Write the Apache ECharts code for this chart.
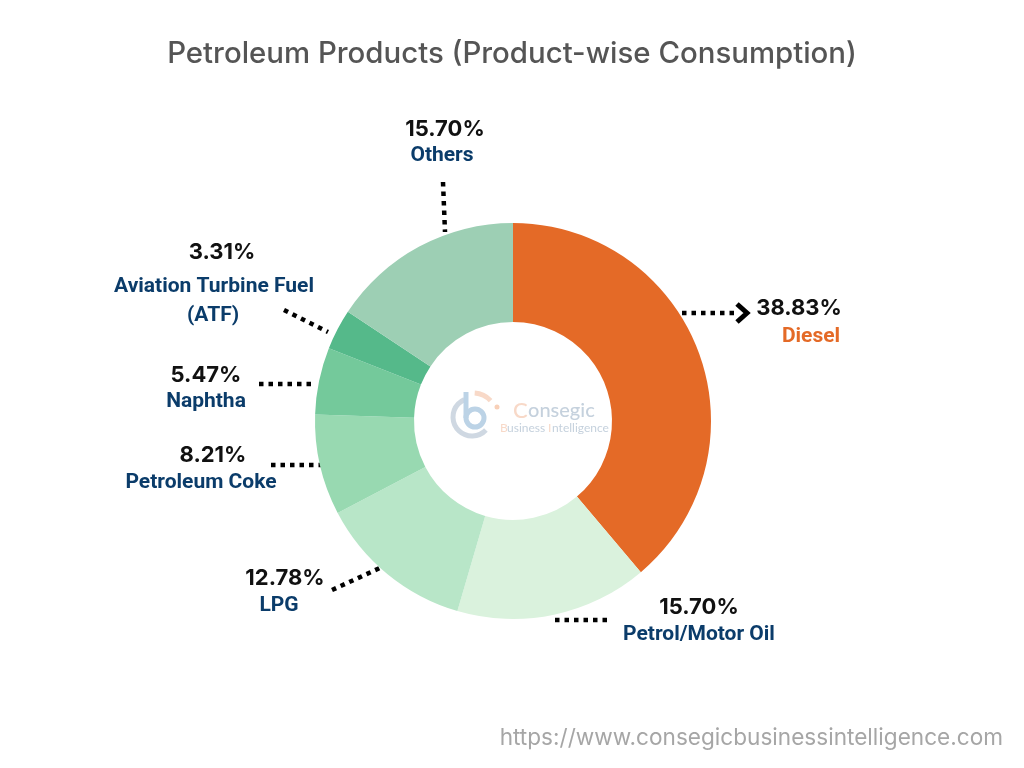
<!DOCTYPE html>
<html>
<head>
<meta charset="utf-8">
<style>html,body{margin:0;padding:0;background:#fff}#main{width:1024px;height:768px}</style>
<script src="https://cdn.jsdelivr.net/npm/echarts@6/dist/echarts.min.js"></script>
</head>
<body>
<div id="main"></div>
<script>
var categories = ['Diesel', 'Petrol/Motor Oil', 'LPG', 'Petroleum Coke', 'Naphtha', 'Aviation Turbine Fuel (ATF)', 'Others'];
var shares = [38.83, 15.70, 12.78, 8.21, 5.47, 3.31, 15.70];
var sliceColors = ['#e46a27', '#daf2dd', '#b8e6c8', '#98d9b1', '#74c99b', '#55b98a', '#9dcfb4'];

var myChart = echarts.init(document.getElementById('main'));

var valueFont = 'Inter';
var nameFont = 'Roboto';
var navy = '#0b3c6a';

// percent + name text blocks, x is the centre of the text
function pct(i) { return shares[i].toFixed(2) + '%'; }
function valueText(i, x, y) {
    return { type: 'text', x: x, y: y, style: { text: pct(i), fontFamily: valueFont, fontWeight: 700, fontSize: 22, fill: '#111', align: 'center', verticalAlign: 'middle' } };
}
function nameText(str, x, y, color) {
    return { type: 'text', x: x, y: y, style: { text: str, fontFamily: nameFont, fontWeight: 700, fontSize: 21, fill: color || navy, align: 'center', verticalAlign: 'middle' } };
}
function dots(x1, y1, x2, y2) {
    return { type: 'line', shape: { x1: x1, y1: y1, x2: x2, y2: y2 }, style: { stroke: '#000', lineWidth: 4.5, lineDash: [4.5, 5] } };
}

var notes = [
    valueText(6, 445, 129), nameText('Others', 442, 156),
    dots(443, 182, 445, 232),
    valueText(5, 222, 252), nameText('Aviation Turbine Fuel', 214, 287), nameText('(ATF)', 213, 316),
    dots(284, 310, 328, 332),
    valueText(0, 799, 308), nameText('Diesel', 811, 337, '#e46a27'),
    dots(682, 313, 734, 313),
    { type: 'polyline', shape: { points: [[737, 304], [747, 313], [737, 322]] }, style: { stroke: '#000', lineWidth: 5, fill: null } },
    valueText(4, 206, 375), nameText('Naphtha', 206, 402),
    dots(259, 384, 314, 384),
    valueText(3, 213, 455), nameText('Petroleum Coke', 201, 483),
    dots(271, 465, 325, 465),
    valueText(2, 285, 578), nameText('LPG', 279, 606),
    dots(332, 590, 382, 567),
    valueText(1, 699, 607), nameText(categories[1], 699, 635),
    dots(555, 620, 610, 620)
];

// faint logo in the hole of the donut
var logo = [
    { type: 'arc', shape: { cx: 472, cy: 417, r: 19, startAngle: 0.75, endAngle: 4.3, clockwise: true }, style: { stroke: '#cfd8e2', lineWidth: 5, fill: null } },
    { type: 'circle', shape: { cx: 475, cy: 418, r: 9 }, style: { stroke: '#bcd3e6', lineWidth: 5, fill: null } },
    { type: 'line', shape: { x1: 466, y1: 392, x2: 466, y2: 418 }, style: { stroke: '#bcd3e6', lineWidth: 5 } },
    { type: 'arc', shape: { cx: 473, cy: 417, r: 24, startAngle: -1.5, endAngle: -0.75, clockwise: true }, style: { stroke: '#f8d9c8', lineWidth: 5, fill: null } },
    { type: 'circle', shape: { cx: 497, cy: 407, r: 2.5 }, style: { fill: '#f8d0b8' } },
    { type: 'text', x: 513, y: 411, style: { text: 'C', font: '500 22px Lato', fill: '#f8d9c8', verticalAlign: 'middle' } },
    { type: 'text', x: 528, y: 411, style: { text: 'onsegic', font: '500 20px Lato', fill: '#c5d1dd', verticalAlign: 'middle' } },
    { type: 'text', x: 500, y: 428, style: { text: 'B', font: '12px Lato', fill: '#f8d9c8', verticalAlign: 'middle' } },
    { type: 'text', x: 507, y: 428, style: { text: 'usiness', font: '12px Lato', fill: '#c5d1dd', verticalAlign: 'middle' } },
    { type: 'text', x: 548, y: 428, style: { text: 'I', font: '12px Lato', fill: '#f8d9c8', verticalAlign: 'middle' } },
    { type: 'text', x: 552, y: 428, style: { text: 'ntelligence', font: '12px Lato', fill: '#c5d1dd', verticalAlign: 'middle' } }
];

var option = {
    backgroundColor: '#fff',
    animation: false,
    title: {
        text: 'Petroleum Products (Product-wise Consumption)',
        left: 'center',
        top: 35,
        textStyle: { fontFamily: 'Inter', fontWeight: 500, fontSize: 29.4, color: '#555' }
    },
    series: [{
        type: 'pie',
        center: [513, 421],
        radius: [99, 198],
        startAngle: 90,
        clockwise: true,
        label: { show: false },
        labelLine: { show: false },
        silent: true,
        data: categories.map(function (name, i) {
            return { name: name, value: shares[i], itemStyle: { color: sliceColors[i] } };
        })
    }],
    graphic: notes.concat(logo).concat([
        { type: 'text', right: 21, top: 727, style: { text: 'https://www.consegicbusinessintelligence.com', font: '400 22.6px Inter', fill: '#a6a6a6' } }
    ])
};
myChart.setOption(option);
</script>
</body>
</html>
